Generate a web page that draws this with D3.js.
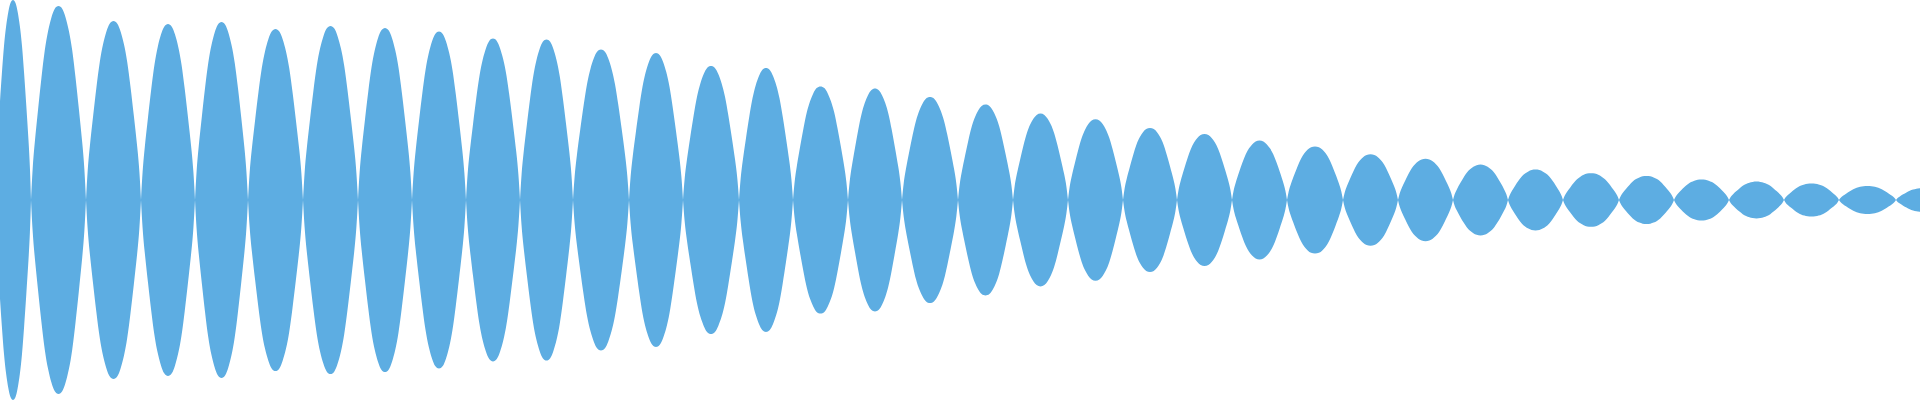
<!DOCTYPE html>
<html lang="en">
<head>
<meta charset="utf-8">
<script src="https://d3js.org/d3.v7.min.js"></script>
<style>
  body { margin: 0; background: #fff; }
</style>
</head>
<body>
<script type="text/javascript">

// zero crossings of the waveform, in samples (0..1920 visible)
var crossings = [-5, 31, 86, 141, 195, 248, 303, 358, 412, 466, 520, 573, 629, 683,
  739, 793, 848, 902, 958, 1013, 1068, 1123, 1177, 1232, 1287, 1343, 1398, 1453,
  1508, 1563, 1619, 1674, 1729, 1784, 1839, 1896, 1951];

// peak amplitude of each lobe between two crossings (normalised, 1 = full scale)
var peaks = [1.0, 0.97, 0.895, 0.88, 0.89, 0.855, 0.87, 0.86, 0.843, 0.807, 0.803,
  0.752, 0.735, 0.67, 0.66, 0.568, 0.557, 0.515, 0.477, 0.432, 0.404, 0.36, 0.33,
  0.297, 0.268, 0.229, 0.206, 0.177, 0.152, 0.134, 0.12, 0.103, 0.092, 0.083,
  0.07, 0.06];

// rising half of one lobe (position within lobe, share of peak)
var profilePos = [0, 0.03, 0.07, 0.13, 0.19, 0.25, 0.31, 0.37, 0.43, 0.5];
var profileAmp = [0, 0.16, 0.3, 0.47, 0.63, 0.77, 0.87, 0.94, 0.985, 1];

var width = 1920,
    height = 400;

var svg = d3.select("body")
  .append("svg")
  .attr("width", width)
  .attr("height", height);

var x = d3.scaleLinear().domain([0, 1920]).range([0, width]);
var y = d3.scaleLinear().domain([-1, 1]).range([height, 0]);

var lobes = peaks.map(function (a, i) {
  var t0 = crossings[i], t1 = crossings[i + 1], w = t1 - t0;
  var pts = profilePos.map(function (p, j) {
    return {t: t0 + p * w, a: a * profileAmp[j]};
  });
  // mirrored falling half
  for (var j = profilePos.length - 2; j >= 0; j--) {
    pts.push({t: t1 - profilePos[j] * w, a: a * profileAmp[j]});
  }
  return pts;
});

var area = d3.area()
  .x(function (d) { return x(d.t); })
  .y0(function (d) { return y(-d.a); })
  .y1(function (d) { return y(d.a); })
  .curve(d3.curveNatural);

svg.selectAll("path.lobe")
  .data(lobes)
  .enter()
  .append("path")
  .attr("class", "lobe")
  .attr("d", area)
  .attr("fill", "#5dade2");

</script>
</body>
</html>
